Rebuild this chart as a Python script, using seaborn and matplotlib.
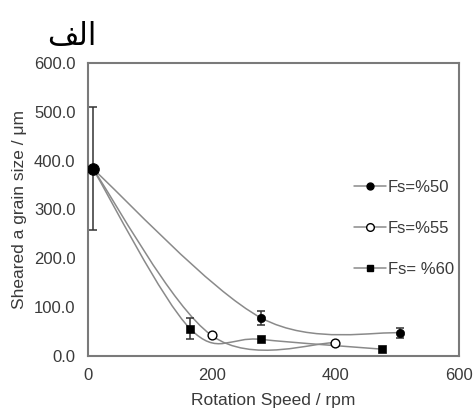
import numpy as np
import pandas as pd
import matplotlib
matplotlib.use("Agg")
import matplotlib.pyplot as plt
import seaborn as sns
from matplotlib.path import Path
from matplotlib.patches import PathPatch
from matplotlib.lines import Line2D

# ---- data ----
fs50_x = [8, 280, 505]
fs50_y = [383, 78, 47]
fs50_err = [126, 15, 10]

fs55_x = [8, 200, 400]
fs55_y = [383, 42, 27]

fs60_x = [8, 165, 280, 475]
fs60_y = [383, 56, 34, 14]
fs60_err = [126, 22, 0, 0]

labels = ["Fs=%50", "Fs=%55", "Fs= %60"]
yticks = [0, 100, 200, 300, 400, 500, 600]
xticks = [0, 200, 400, 600]
title = "\ufed2\ufedf\u0627"  # "الف" in visual (shaped) order

sns.set_style("white")
plt.rcParams['font.family'] = ['Liberation Sans', 'DejaVu Sans']

fig = plt.figure(figsize=(4.75, 4.09), dpi=100)
ax = fig.add_axes([0.1853, 0.1296, 0.781, 0.7164])

LINE = "#8a8a8a"
TXT = "#3a3a3a"


def smooth_path(xs, ys):
    pts = np.column_stack([xs, ys]).astype(float)
    n = len(pts)
    verts = [pts[0]]
    codes = [Path.MOVETO]
    for i in range(n - 1):
        p0 = pts[i - 1] if i > 0 else pts[i]
        p1 = pts[i]
        p2 = pts[i + 1]
        p3 = pts[i + 2] if i + 2 < n else pts[i + 1]
        c1 = p1 + (p2 - p0) / 6.0
        c2 = p2 - (p3 - p1) / 6.0
        verts += [c1, c2, p2]
        codes += [Path.CURVE4] * 3
    return Path(verts, codes)


for xs, ys in [(fs50_x, fs50_y), (fs55_x, fs55_y), (fs60_x, fs60_y)]:
    ax.add_patch(PathPatch(smooth_path(xs, ys), facecolor="none",
                           edgecolor=LINE, lw=1.1, zorder=2))

# error bars
ax.errorbar(fs50_x, fs50_y, yerr=fs50_err, fmt="none", ecolor="#333333",
            elinewidth=1.1, capsize=3, capthick=1.1, zorder=3)
ax.errorbar(fs60_x[1:2], fs60_y[1:2], yerr=fs60_err[1:2], fmt="none",
            ecolor="#333333", elinewidth=1.1, capsize=3, capthick=1.1, zorder=3)

df50 = pd.DataFrame({"x": fs50_x[1:], "y": fs50_y[1:]})
df55 = pd.DataFrame({"x": fs55_x[1:], "y": fs55_y[1:]})
df60 = pd.DataFrame({"x": fs60_x[1:], "y": fs60_y[1:]})
df0 = pd.DataFrame({"x": fs50_x[:1], "y": fs50_y[:1]})

sns.scatterplot(data=df50, x="x", y="y", ax=ax, marker="o", s=36,
                color="black", edgecolor="black", zorder=4, legend=False)
sns.scatterplot(data=df55, x="x", y="y", ax=ax, marker="o", s=40,
                color="white", edgecolor="black", linewidth=1.0, zorder=4, legend=False)
sns.scatterplot(data=df60, x="x", y="y", ax=ax, marker="s", s=32,
                color="black", edgecolor="black", zorder=4, legend=False)
sns.scatterplot(data=df0, x="x", y="y", ax=ax, marker="o", s=70,
                color="black", edgecolor="black", zorder=5, legend=False)

ax.set_xlim(0, 600)
ax.set_ylim(0, 600)
ax.set_xticks(xticks)
ax.set_xticklabels([str(v) for v in xticks])
ax.set_yticks(yticks)
ax.set_yticklabels([f"{v:.1f}" for v in yticks])
ax.tick_params(direction="in", length=3, width=0.8, colors="#888888",
               labelcolor=TXT, labelsize=12, pad=9)
ax.set_xlabel("Rotation Speed / rpm", fontsize=12.5, color=TXT, labelpad=7)
ax.set_ylabel("Sheared a grain size / μm", fontsize=12.5, color=TXT, labelpad=5)
for sp in ax.spines.values():
    sp.set_color("#7a7a7a")
    sp.set_linewidth(1.5)

handles = [
    Line2D([], [], color=LINE, lw=1.1, marker="o", ms=5, mfc="black", mec="black"),
    Line2D([], [], color=LINE, lw=1.1, marker="o", ms=5.5, mfc="white", mec="black"),
    Line2D([], [], color=LINE, lw=1.1, marker="s", ms=5, mfc="black", mec="black"),
]
leg = ax.legend(handles, labels, loc="upper left", bbox_to_anchor=(0.7, 0.623),
                frameon=False, fontsize=12, handlelength=1.9, handletextpad=0.1,
                labelspacing=1.55, labelcolor=TXT, borderaxespad=0)

fig.text(0.1, 0.91, title, fontsize=22, family=["DejaVu Sans"], color="black",
         ha="left", va="center")

fig.savefig("out.png", dpi=100)
